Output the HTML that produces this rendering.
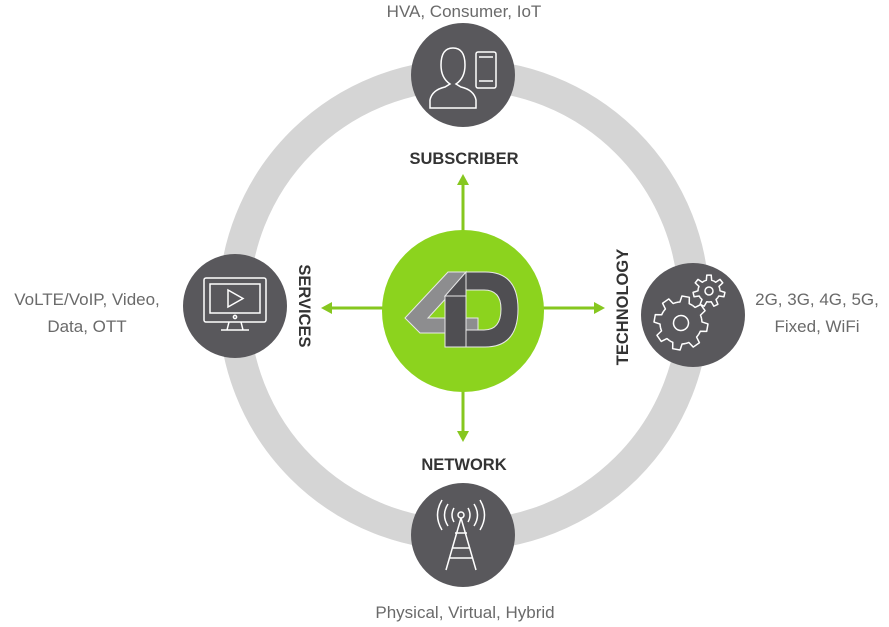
<!DOCTYPE html>
<html><head><meta charset="utf-8"><style>
html,body{margin:0;padding:0;background:#fff;}
svg{display:block;}
text{font-family:"Liberation Sans",sans-serif;}
</style></head><body>
<svg width="889" height="627" viewBox="0 0 889 627" xmlns="http://www.w3.org/2000/svg">
<defs>
<path id="tb" d="M-8.04,-19.40 A21,21 0 0 1 -4.72,-20.46 L-3.76,-26.74 L3.76,-26.74 L4.72,-20.46 A21,21 0 0 1 8.04,-19.40" fill="none" stroke="#fff" stroke-width="1.5" stroke-linejoin="round"/>
<path id="ts" d="M-4.77,-9.91 A11,11 0 0 1 -2.66,-10.67 L-2.23,-15.84 L2.23,-15.84 L2.66,-10.67 A11,11 0 0 1 4.77,-9.91" fill="none" stroke="#fff" stroke-width="1.5" stroke-linejoin="round"/>
</defs>
<circle cx="464" cy="305" r="230" fill="none" stroke="#d5d5d5" stroke-width="31"/>
<g stroke="#86c71f" stroke-width="3" fill="#86c71f">
<line x1="463" y1="232" x2="463" y2="183"/><polygon points="457,185 469,185 463,174" stroke="none"/>
<line x1="463" y1="390" x2="463" y2="433"/><polygon points="457,431 469,431 463,442" stroke="none"/>
<line x1="384" y1="308" x2="330" y2="308"/><polygon points="332,302 332,314 321,308" stroke="none"/>
<line x1="542" y1="308" x2="596" y2="308"/><polygon points="594,302 594,314 605,308" stroke="none"/>
</g>
<circle cx="463" cy="311" r="81" fill="#8cd31e"/>
<g stroke="#e8e8e8" stroke-width="1">
<polygon points="448,272 470,272 428,318 478,318 478,333 420,333 405,318" fill="#8d8d8f"/>
<path d="M466,272 L485,272 Q518,272 518,309 Q518,347 485,347 L466,347 Z M466,290 L484,290 Q501,290 501,309 Q501,330 484,330 L466,330 Z" fill="#4f4e52" fill-rule="evenodd"/>
<rect x="445" y="296" width="21" height="51" fill="#4f4e52"/>
<polygon points="445,296 466,272 466,296" fill="#4f4e52"/>
</g>
<circle cx="463" cy="75" r="52" fill="#59585c"/>
<circle cx="235" cy="306" r="52" fill="#59585c"/>
<circle cx="693" cy="315" r="52" fill="#59585c"/>
<circle cx="463" cy="535" r="52" fill="#59585c"/>
<g fill="none" stroke="#fff" stroke-width="1.5">
<path d="M430,108 L430,100 Q432,90 445,87 L450,84 Q441,78 441,65 Q441,48 453,48 Q465,48 465,65 Q465,78 456,84 L461,87 Q474,90 476,100 L476,108 Z"/>
<rect x="476" y="52" width="20" height="36" rx="2"/><line x1="479" y1="57" x2="493" y2="57"/><line x1="479" y1="81" x2="493" y2="81"/>
<rect x="204" y="278" width="62" height="44" rx="2"/><rect x="210" y="284" width="50" height="29"/>
<path d="M228,290 L228,307 L243,298.5 Z"/><circle cx="235" cy="317" r="1.6"/><path d="M229,322 L227,330 M241,322 L243,330 M221,330 L249,330"/>
<circle cx="461" cy="515" r="3"/><path d="M461,518 L446,570 M461,518 L476,570 M452,548 L470,548 M449,558 L473,558 M455,533 L467,533"/>
<path d="M454,508 q-4,7 0,14 M468,508 q4,7 0,14 M448,504 q-7,11 0,22 M474,504 q7,11 0,22 M442,500 q-9,15 0,30 M480,500 q9,15 0,30"/>
</g>
<g transform="translate(709,291)">
<use href="#ts"/><use href="#ts" transform="rotate(51.43)"/><use href="#ts" transform="rotate(102.86)"/><use href="#ts" transform="rotate(154.29)"/><use href="#ts" transform="rotate(205.71)"/><use href="#ts" transform="rotate(257.14)"/><use href="#ts" transform="rotate(308.57)"/>
<circle r="4" fill="none" stroke="#fff" stroke-width="1.5"/>
</g>
<g transform="translate(681,323) rotate(10)">
<circle r="26" fill="#59585c"/>
<use href="#tb"/><use href="#tb" transform="rotate(45)"/><use href="#tb" transform="rotate(90)"/><use href="#tb" transform="rotate(135)"/><use href="#tb" transform="rotate(180)"/><use href="#tb" transform="rotate(225)"/><use href="#tb" transform="rotate(270)"/><use href="#tb" transform="rotate(315)"/>
<circle r="7.5" fill="none" stroke="#fff" stroke-width="1.5"/>
</g>
<g fill="#333" font-weight="bold" font-size="16.5">
<text x="464" y="164" text-anchor="middle">SUBSCRIBER</text>
<text x="464" y="470" text-anchor="middle">NETWORK</text>
<text transform="translate(299,306) rotate(90)" text-anchor="middle">SERVICES</text>
<text transform="translate(628,307) rotate(-90)" text-anchor="middle">TECHNOLOGY</text>
</g>
<g fill="#6a6a6a" font-size="17">
<text x="464" y="17" text-anchor="middle">HVA, Consumer, IoT</text>
<text x="465" y="618" text-anchor="middle">Physical, Virtual, Hybrid</text>
<text x="87" y="305" text-anchor="middle">VoLTE/VoIP, Video,</text>
<text x="87" y="332" text-anchor="middle">Data, OTT</text>
<text x="817" y="305" text-anchor="middle">2G, 3G, 4G, 5G,</text>
<text x="817" y="332" text-anchor="middle">Fixed, WiFi</text>
</g>
</svg>
</body></html>
